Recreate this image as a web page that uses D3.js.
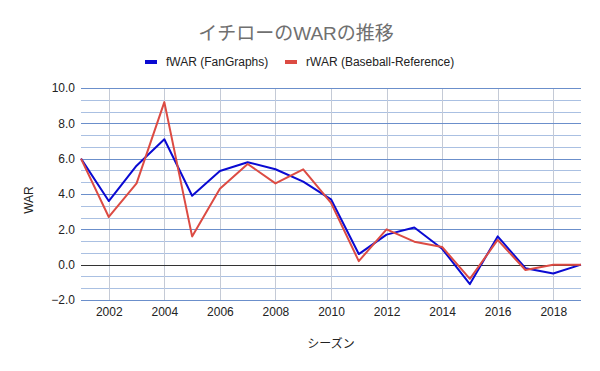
<!DOCTYPE html>
<html>
<head>
<meta charset="utf-8">
<script src="https://cdn.jsdelivr.net/npm/d3@7"></script>
<style>
  body { margin: 0; background: #fff; }
  svg { font-family: "Liberation Sans", Arial, "Noto Sans CJK JP", sans-serif; }
</style>
</head>
<body>
<svg id="chart" width="600" height="371"></svg>
<script>
// Data
const seasons = [2001, 2002, 2003, 2004, 2005, 2006, 2007, 2008, 2009, 2010,
                 2011, 2012, 2013, 2014, 2015, 2016, 2017, 2018, 2019];
const fWAR = [6.0, 3.6, 5.6, 7.1, 3.9, 5.3, 5.8, 5.4, 4.7, 3.7,
              0.6, 1.7, 2.1, 0.9, -1.1, 1.6, -0.2, -0.5, 0.0];
const rWAR = [6.0, 2.7, 4.6, 9.2, 1.6, 4.3, 5.7, 4.6, 5.4, 3.5,
              0.2, 2.0, 1.3, 1.0, -0.8, 1.4, -0.3, 0.0, 0.0];
const yTicks = [-2, 0, 2, 4, 6, 8, 10];
const xTicks = [2002, 2004, 2006, 2008, 2010, 2012, 2014, 2016, 2018];
const seriesNames = ["fWAR (FanGraphs)", "rWAR (Baseball-Reference)"];
const seriesColors = ["#0a0ad2", "#dc4b43"];

const svg = d3.select('#chart');
const margin = { left: 81, right: 19, top: 88, bottom: 71 };
const width = 600 - margin.left - margin.right;
const height = 371 - margin.top - margin.bottom;

const x = d3.scaleLinear().domain([2001, 2019]).range([margin.left, margin.left + width]);
const y = d3.scaleLinear().domain([-2, 10]).range([margin.top + height, margin.top]);

// minor gridlines (2 between each pair of majors)
const minor = d3.range(0, 18).filter(k => k % 3 !== 0).map(k => -2 + k * 2 / 3);
svg.append('g').selectAll('line')
  .data(minor)
  .enter().append('line')
  .attr('x1', margin.left).attr('x2', margin.left + width)
  .attr('y1', d => Math.round(y(d)) + 0.5).attr('y2', d => Math.round(y(d)) + 0.5)
  .attr('stroke', '#aac0e2').attr('stroke-width', 1);

// vertical gridlines
svg.append('g').selectAll('line')
  .data(xTicks)
  .enter().append('line')
  .attr('x1', d => Math.round(x(d)) + 0.5).attr('x2', d => Math.round(x(d)) + 0.5)
  .attr('y1', margin.top).attr('y2', margin.top + height)
  .attr('stroke', '#c4cad6').attr('stroke-width', 1);

// major gridlines
svg.append('g').selectAll('line')
  .data(yTicks)
  .enter().append('line')
  .attr('x1', margin.left).attr('x2', margin.left + width)
  .attr('y1', d => Math.round(y(d)) + 0.5).attr('y2', d => Math.round(y(d)) + 0.5)
  .attr('stroke', d => d === 0 ? '#333333' : '#6b8fcb').attr('stroke-width', 1);

// y axis labels
const yAxis = d3.axisLeft(y).tickValues(yTicks).tickFormat(d3.format('.1f')).tickSize(0).tickPadding(6);
svg.append('g')
  .attr('transform', `translate(${margin.left},0)`)
  .call(yAxis)
  .call(g => g.select('.domain').remove())
  .selectAll('text')
  .attr('font-size', 12).attr('fill', '#222').attr('font-family', '"Liberation Sans", Arial, sans-serif');

// x axis labels
const xAxis = d3.axisBottom(x).tickValues(xTicks).tickFormat(d3.format('d')).tickSize(0).tickPadding(7);
svg.append('g')
  .attr('transform', `translate(0,${margin.top + height})`)
  .call(xAxis)
  .call(g => g.select('.domain').remove())
  .selectAll('text')
  .attr('font-size', 12).attr('fill', '#222').attr('font-family', '"Liberation Sans", Arial, sans-serif');

// lines
const line = d3.line()
  .x((d, i) => x(seasons[i]))
  .y(d => y(d));

[fWAR, rWAR].forEach((s, i) => {
  svg.append('path')
    .datum(s)
    .attr('d', line)
    .attr('fill', 'none')
    .attr('stroke', seriesColors[i])
    .attr('stroke-width', 2)
    .attr('stroke-linejoin', 'round');
});

// title
svg.append('text')
  .attr('x', 296).attr('y', 40)
  .attr('text-anchor', 'middle')
  .attr('font-size', 19)
  .attr('fill', '#707070')
  .attr('font-family', '"Liberation Sans", Arial, "Noto Sans CJK JP", sans-serif')
  .text('イチローのWARの推移');

// legend
const legendX = [145, 285];
seriesNames.forEach((name, i) => {
  svg.append('rect')
    .attr('x', legendX[i]).attr('y', 60)
    .attr('width', 12).attr('height', 4)
    .attr('fill', seriesColors[i]);
  svg.append('text')
    .attr('x', legendX[i] + 21).attr('y', 66)
    .attr('font-size', 12).attr('fill', '#222')
    .text(name);
});

// axis titles
svg.append('text')
  .attr('transform', 'translate(33,200) rotate(-90)')
  .attr('text-anchor', 'middle')
  .attr('font-size', 12).attr('fill', '#222')
  .text('WAR');

svg.append('text')
  .attr('x', 331).attr('y', 348)
  .attr('text-anchor', 'middle')
  .attr('font-size', 12).attr('fill', '#222')
  .attr('font-family', '"Noto Sans CJK JP", sans-serif')
  .text('シーズン');
</script>
</body>
</html>
